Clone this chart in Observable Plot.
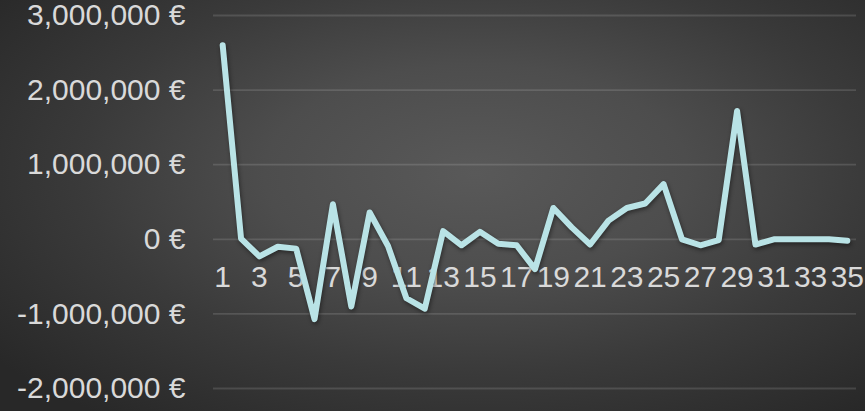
<!DOCTYPE html>
<html>
<head>
<meta charset="utf-8">
<script src="https://cdn.jsdelivr.net/npm/d3@7"></script>
<script src="https://cdn.jsdelivr.net/npm/@observablehq/plot@0.6"></script>
<style>
  html, body { margin: 0; padding: 0; background: #2a2a2a; }
  #chart {
    width: 865px; height: 411px; overflow: hidden;
    background: radial-gradient(ellipse 70% 75% at 55% 42%, #595959 0%, #4d4d4d 35%, #3a3a3a 65%, #282828 100%);
  }
</style>
</head>
<body>
<div id="chart"></div>
<script>
const categories = [1,2,3,4,5,6,7,8,9,10,11,12,13,14,15,16,17,18,19,20,21,22,23,24,25,26,27,28,29,30,31,32,33,34,35];
const values = [2600000, 10000, -230000, -100000, -125000, -1070000, 470000, -900000, 360000, -90000,
  -790000, -930000, 110000, -80000, 100000, -60000, -80000, -400000, 420000, 160000,
  -70000, 250000, 420000, 480000, 740000, 0, -80000, -10000, 1720000, -70000,
  0, 0, 0, 0, -20000];
const xTickLabels = [1,3,5,7,9,11,13,15,17,19,21,23,25,27,29,31,33,35];
const yTicks = [-2000000, -1000000, 0, 1000000, 2000000, 3000000];

const data = categories.map((c, i) => ({cat: c, value: values[i]}));
const fmt = d => (d < 0 ? "-" : "") + d3.format(",")(Math.abs(d)) + " €";

const svg = Plot.plot({
  width: 865,
  height: 411,
  marginLeft: 213,
  marginRight: 9,
  marginTop: 15,
  marginBottom: 23,
  style: {background: "transparent", color: "#d9d9d9", fontFamily: "'Liberation Sans', Arial, sans-serif", fontSize: "30px"},
  x: {type: "point", domain: categories, padding: 0.5, round: false, axis: null},
  y: {domain: [-2000000, 3000000], ticks: yTicks, label: null},
  marks: [
    Plot.gridY(yTicks, {stroke: "#ffffff", strokeOpacity: 0.13, strokeWidth: 1.8}),
    Plot.axisY(yTicks, {tickSize: 0, tickPadding: 28, tickFormat: fmt, fontSize: 30, fill: "#d9d9d9", label: null}),
    Plot.text(xTickLabels, {x: d => d, y: 0, dy: 38, text: d => String(d), fontSize: 30, fill: "#d9d9d9"}),
    Plot.lineY(data, {x: "cat", y: "value", stroke: "#b9e3e6", strokeWidth: 6, strokeLinejoin: "round", strokeLinecap: "round"})
  ]
});
d3.select(svg).selectAll("g[aria-label=line] path").style("filter", "drop-shadow(1px 2px 2px rgba(0,0,0,0.45))");
document.getElementById("chart").appendChild(svg);
</script>
</body>
</html>
